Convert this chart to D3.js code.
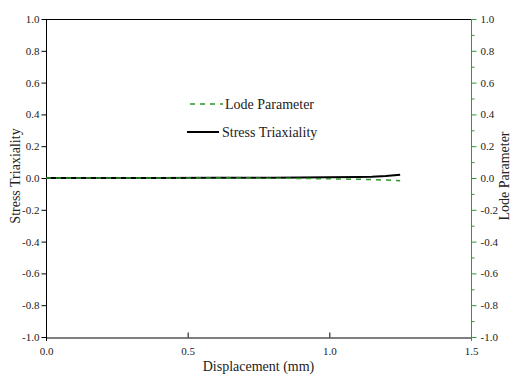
<!DOCTYPE html>
<html><head><meta charset="utf-8">
<script src="https://cdn.jsdelivr.net/npm/d3@7"></script>
<style>body{margin:0;background:#fff}svg{display:block}text{font-family:"Liberation Serif","Times New Roman",serif;fill:#222}</style>
</head><body><svg id="c" width="514" height="374"></svg>
<script>
const xTicks = [0, 0.5, 1.0, 1.5];
const yTicks = [-1.0, -0.8, -0.6, -0.4, -0.2, 0.0, 0.2, 0.4, 0.6, 0.8, 1.0];
const triaxX = [0, 0.2, 0.4, 0.6, 0.8, 0.9, 1.0, 1.1, 1.15, 1.2, 1.23, 1.25];
const triaxY = [0, 0, 0.0005, 0.001, 0.002, 0.003, 0.004, 0.006, 0.008, 0.012, 0.017, 0.02];
const lodeX = [0, 0.2, 0.4, 0.6, 0.8, 0.9, 1.0, 1.1, 1.15, 1.2, 1.25];
const lodeY = [0, 0, 0, 0, -0.001, -0.003, -0.005, -0.008, -0.01, -0.013, -0.017];

const svg = d3.select("#c");
const L = 46, R = 471, T = 19, B = 337;
const x = d3.scaleLinear().domain([0, 1.5]).range([L, R]);
const y = d3.scaleLinear().domain([-1, 1]).range([B, T]);
const y2 = d3.scaleLinear().domain([-1, 1]).range([B, T]);
const green = "#2e9a2e";
const fmt = d => d.toFixed(1);
const FONT = '"Liberation Serif","Times New Roman",serif';

// top border
svg.append("line").attr("x1", L).attr("x2", R).attr("y1", T + 0.5).attr("y2", T + 0.5).attr("stroke", "#000");

// bottom axis
const gx = svg.append("g").attr("transform", `translate(0,${B + 0.5})`)
  .call(d3.axisBottom(x).tickValues(xTicks).tickFormat(fmt).tickSizeInner(-5).tickSizeOuter(0).tickPadding(10));
gx.attr("font-family", FONT).attr("font-size", 11);
gx.select(".domain").attr("stroke", "#000");
gx.selectAll("text").attr("fill", "#222");

// left axis
const gy = svg.append("g").attr("transform", `translate(${L + 0.5},0)`)
  .call(d3.axisLeft(y).tickValues(yTicks).tickFormat(fmt).tickSize(5).tickSizeOuter(0).tickPadding(2));
gy.attr("font-family", FONT).attr("font-size", 11);
gy.selectAll("text").attr("fill", "#222");
gy.select(".domain").attr("d", `M0,${T}V${B + 4}`);

// right axis (minor)
const minor = d3.range(-9, 10, 2).map(v => v / 10);
svg.append("g").attr("transform", `translate(${R + 0.5},0)`)
  .call(d3.axisRight(y2).tickValues(minor).tickFormat("").tickSize(3).tickSizeOuter(0))
  .call(g => g.select(".domain").remove())
  .selectAll("line").attr("stroke", green);
const gr = svg.append("g").attr("transform", `translate(${R + 0.5},0)`)
  .call(d3.axisRight(y2).tickValues(yTicks).tickFormat(fmt).tickSize(5).tickSizeOuter(0).tickPadding(4));
gr.attr("font-family", FONT).attr("font-size", 11);
gr.select(".domain").attr("stroke", green).attr("d", `M0,${T}V${B + 4}`);
gr.selectAll("line").attr("stroke", green);
gr.selectAll("text").attr("fill", "#222");

// lines
const triax = triaxX.map((v, i) => [v, triaxY[i]]);
const lode = lodeX.map((v, i) => [v, lodeY[i]]);
const line = d3.line().x(d => x(d[0])).y(d => y(d[1]));
const line2 = d3.line().x(d => x(d[0])).y(d => y2(d[1]));
svg.append("path").attr("d", line(triax)).attr("fill", "none").attr("stroke", "#000").attr("stroke-width", 2);
svg.append("path").attr("d", line2(lode)).attr("fill", "none").attr("stroke", green).attr("stroke-width", 1.5).attr("stroke-dasharray", "5,5");

// legend
svg.append("line").attr("x1", 190).attr("x2", 223).attr("y1", 104).attr("y2", 104).attr("stroke", green).attr("stroke-width", 1.5).attr("stroke-dasharray", "5,5");
svg.append("text").attr("x", 225).attr("y", 109).attr("font-size", 14).text("Lode Parameter");
svg.append("line").attr("x1", 187).attr("x2", 219).attr("y1", 132).attr("y2", 132).attr("stroke", "#000").attr("stroke-width", 2);
svg.append("text").attr("x", 222).attr("y", 137).attr("font-size", 14).text("Stress Triaxiality");

// axis titles
svg.append("text").attr("x", (L + R) / 2).attr("y", 371).attr("text-anchor", "middle").attr("font-size", 14).text("Displacement (mm)");
svg.append("text").attr("transform", "translate(20,176) rotate(-90)").attr("text-anchor", "middle").attr("font-size", 14).text("Stress Triaxiality");
svg.append("text").attr("transform", "translate(509,176) rotate(-90)").attr("text-anchor", "middle").attr("font-size", 14).text("Lode Parameter");
</script></body></html>
